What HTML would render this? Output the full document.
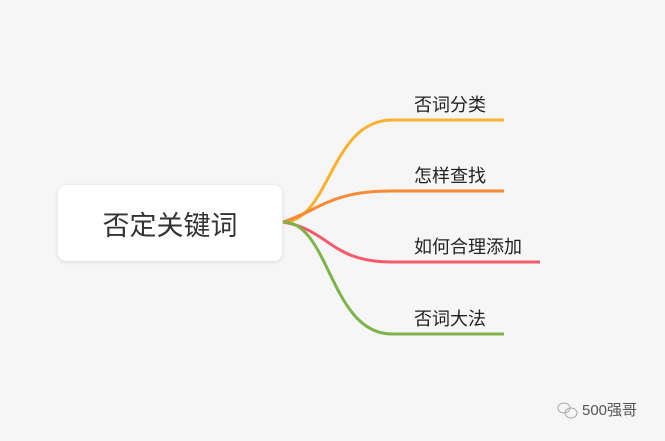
<!DOCTYPE html>
<html><head><meta charset="utf-8"><style>
body{margin:0;width:665px;height:441px;background:#f6f6f6;overflow:hidden;position:relative;font-family:"Liberation Sans","Noto Sans CJK SC",sans-serif}
.box{position:absolute;left:58px;top:185px;width:224px;height:76px;background:#fff;border-radius:8px;box-shadow:0 1px 4px rgba(0,0,0,0.12);font-size:27px;color:#333;text-align:center;line-height:82px}
.l{position:absolute;left:414px;font-size:18px;color:#222;line-height:20px}
.wm{position:absolute;left:582px;top:399px;font-size:15px;color:#555}
</style></head><body>
<svg width="665" height="441" style="position:absolute;left:0;top:0">
<g fill="none" stroke-width="3">
<path d="M283 222 C330 222 330 120 392 120 L504 120" stroke="#f9b130"/>
<path d="M283 222 C320 210 330 191 392 191 L504 191" stroke="#f68a35"/>
<path d="M283 222 C330 230 330 262 392 262 L540 262" stroke="#f5596a"/>
<path d="M283 222 C330 222 330 334 392 334 L504 334" stroke="#7db44a"/>
</g>
<g fill="none" stroke="#aaa" stroke-width="1">
<ellipse cx="564" cy="408" rx="6" ry="5"/><ellipse cx="571" cy="413" rx="6" ry="5"/>
</g>
</svg>
<div class="box">否定关键词</div>
<div class="l" style="top:95px">否词分类</div>
<div class="l" style="top:166px">怎样查找</div>
<div class="l" style="top:237px">如何合理添加</div>
<div class="l" style="top:309px">否词大法</div>
<div class="wm">500强哥</div>
</body></html>
